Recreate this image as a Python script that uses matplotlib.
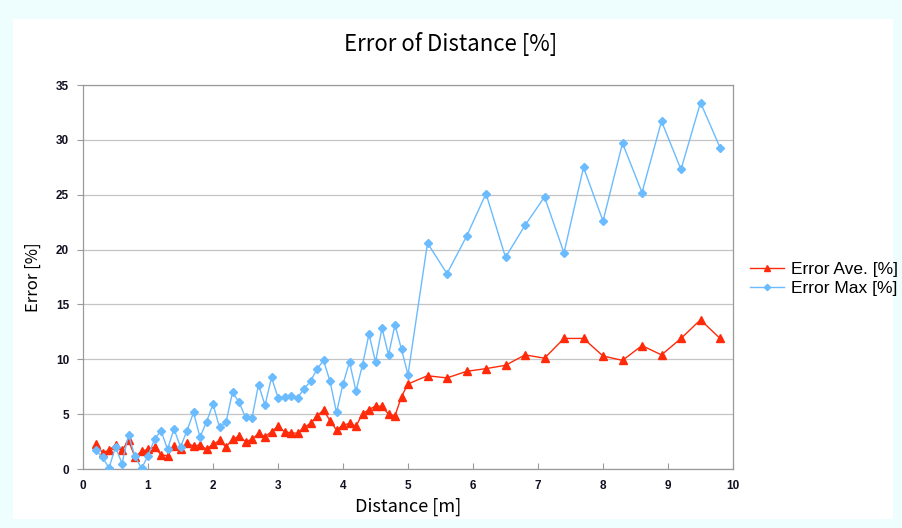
import matplotlib
matplotlib.use("Agg")
import matplotlib.pyplot as plt
from matplotlib.patches import Rectangle

# distance [m]
distance = [0.2, 0.3, 0.4, 0.5, 0.6, 0.7, 0.8, 0.9, 1.0,
            1.1, 1.2, 1.3, 1.4, 1.5, 1.6, 1.7, 1.8, 1.9, 2.0,
            2.1, 2.2, 2.3, 2.4, 2.5, 2.6, 2.7, 2.8, 2.9, 3.0,
            3.1, 3.2, 3.3, 3.4, 3.5, 3.6, 3.7, 3.8, 3.9, 4.0,
            4.1, 4.2, 4.3, 4.4, 4.5, 4.6, 4.7, 4.8, 4.9, 5.0,
            5.3, 5.6, 5.9, 6.2, 6.5, 6.8, 7.1, 7.4, 7.7, 8.0,
            8.3, 8.6, 8.9, 9.2, 9.5, 9.8]

error_ave = [2.3, 1.5, 1.7, 2.2, 1.7, 2.6, 1.1, 1.6, 1.8,
             2.0, 1.3, 1.2, 2.1, 1.8, 2.35, 2.1, 2.2, 1.8, 2.25,
             2.6, 2.0, 2.7, 3.0, 2.5, 2.7, 3.25, 2.95, 3.4, 3.9,
             3.4, 3.3, 3.25, 3.8, 4.15, 4.8, 5.4, 4.4, 3.55, 4.0,
             4.15, 3.9, 5.05, 5.4, 5.75, 5.7, 5.0, 4.85, 6.6, 7.75,
             8.5, 8.3, 8.9, 9.15, 9.45, 10.4, 10.1, 11.9, 11.9, 10.3,
             9.9, 11.25, 10.4, 11.9, 13.6, 11.9]

error_max = [1.7, 1.05, 0.1, 2.0, 0.5, 3.1, 1.15, 0.05, 1.2,
             2.7, 3.5, 1.8, 3.65, 2.0, 3.5, 5.15, 2.9, 4.3, 5.9,
             3.8, 4.25, 7.0, 6.1, 4.7, 4.65, 7.7, 5.8, 8.35, 6.5,
             6.6, 6.65, 6.5, 7.3, 8.0, 9.1, 9.9, 8.0, 5.15, 7.75,
             9.75, 7.1, 9.5, 12.3, 9.75, 12.85, 10.4, 13.15, 10.9, 8.6,
             20.6, 17.8, 21.2, 25.1, 19.3, 22.2, 24.8, 19.7, 27.5, 22.6,
             29.7, 25.2, 31.7, 27.3, 33.4, 29.3]

x_ticks = [0, 1, 2, 3, 4, 5, 6, 7, 8, 9, 10]
y_ticks = [0, 5, 10, 15, 20, 25, 30, 35]

plt.rcParams["font.family"] = ["Noto Sans CJK JP", "DejaVu Sans"]

fig = plt.figure(figsize=(9.02, 5.28), dpi=100, facecolor="#EEFDFD")
# white chart area inside the cyan border
fig.add_artist(Rectangle((13 / 902, 9 / 528), 880 / 902, 500 / 528,
                         transform=fig.transFigure, facecolor="white",
                         edgecolor="none", zorder=-5))

ax = fig.add_axes([83 / 902, 1 - 469 / 528, 650 / 902, 384 / 528])
ax.set_facecolor("white")

ax.plot(distance, error_ave, color="#FF2A0A", linewidth=1.0, marker="^",
        markersize=5.5, label="Error Ave. [%]", zorder=3)
ax.plot(distance, error_max, color="#6BBBFF", linewidth=1.0, marker="D",
        markersize=4, label="Error Max [%]", zorder=3)

ax.set_xlim(0, 10)
ax.set_ylim(0, 35)
ax.set_xticks(x_ticks)
ax.set_yticks(y_ticks)
ax.yaxis.grid(True, color="#C4C4C4", linewidth=0.9)
ax.set_axisbelow(True)

for side in ["left", "bottom", "top", "right"]:
    ax.spines[side].set_color("#9A9A9A")
    ax.spines[side].set_linewidth(0.9)

ax.tick_params(axis="y", direction="out", length=4, color="#9A9A9A", pad=6)
ax.tick_params(axis="x", direction="in", length=4, color="#9A9A9A", pad=8)
for lbl in ax.get_xticklabels() + ax.get_yticklabels():
    lbl.set_family("Liberation Sans")
    lbl.set_fontweight("bold")
    lbl.set_fontsize(8.5)
    lbl.set_color("#111122")

ax.set_xlabel("Distance [m]", fontsize=13, labelpad=4)
ax.set_ylabel("Error [%]", fontsize=12, labelpad=10)

fig.text(0.5, 1 - 44 / 528, "Error of Distance [%]", ha="center", va="center",
         fontsize=16)

leg = ax.legend(loc="center left", bbox_to_anchor=(1.015, 0.495), frameon=False,
                handlelength=2.0, handletextpad=0.4, labelspacing=0.25,
                borderaxespad=0.0, markerscale=0.8,
                prop={"family": "Liberation Sans", "size": 12.5})

fig.savefig("out.png", dpi=100, facecolor=fig.get_facecolor())
